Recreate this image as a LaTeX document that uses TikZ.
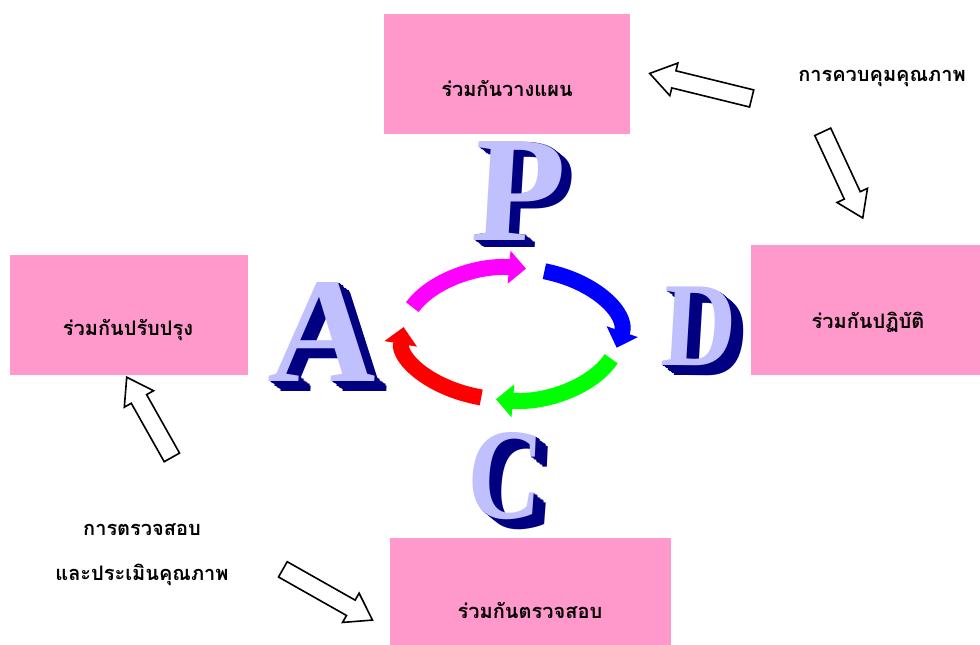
\documentclass[tikz,border=0pt]{standalone}
\usepackage{fontspec}
\setmainfont{Liberation Serif}
\newfontfamily\thaifont[Script=Thai]{Loma}
\usetikzlibrary{arrows.meta,shapes.arrows}
\definecolor{boxpink}{HTML}{FF99CC}
\definecolor{letterface}{HTML}{C0C0FF}
\definecolor{letterside}{HTML}{000080}
\definecolor{cmag}{HTML}{FF00FF}
\definecolor{cblue}{HTML}{0000FF}
\definecolor{cgreen}{HTML}{00FF00}
\definecolor{cred}{HTML}{FF0000}
\newcommand\pdcaletter[7]{% name, x, y, letter, size, dx, dy ; xscale via \lxs
  \foreach \k in {8,7,...,1}{%
    \node[bigletter, text=letterside, xscale=\lxs] (#1-\k) at (#2+\k*#6/8, #3+\k*#7/8) {\fontsize{#5}{#5}\selectfont #4};}
  \node[bigletter, text=letterface, xscale=\lxs] (#1) at (#2,#3) {\fontsize{#5}{#5}\selectfont #4};}
\begin{document}
\begin{tikzpicture}[x=1pt,y=-1pt,
  box/.style={fill=boxpink, draw=none, inner sep=0pt, minimum width=#1},
  thai/.style={font=\thaifont\bfseries\fontsize{20}{24}\selectfont, text=black, inner sep=0pt},
  bigletter/.style={font=\bfseries, anchor=base, inner sep=0pt, xslant=0.06},
  cyc/.style={line width=16pt, -{Triangle[width=32pt,length=17pt]}},
  blockarrow/.style={single arrow, draw=black, fill=white, line width=1.6pt,
    inner sep=0pt, text height=8pt, text depth=8pt, text width=0pt,
    single arrow head extend=8pt, single arrow head indent=0pt,
    single arrow tip angle=68}]
\useasboundingbox (0,0) rectangle (980,645);
\fill[white] (0,0) rectangle (980,645);
% boxes
\node[box=246pt, minimum height=120pt] (plan) at (507,74) {};
\node[box=229pt, minimum height=130pt] (do) at (865.5,310) {};
\node[box=238pt, minimum height=120pt] (act) at (129,315) {};
\node[box=281pt, minimum height=107pt] (check) at (530.5,591.5) {};
\node[thai] (plantxt) at (507,88) {ร่วมกันวางแผน};
\node[thai] (dotxt) at (868,322) {ร่วมกันปฏิบัติ};
\node[thai] (acttxt) at (128,330) {ร่วมกันปรับปรุง};
\node[thai] (checktxt) at (530,610) {ร่วมกันตรวจสอบ};
\node[thai] (qc) at (882,78) {การควบคุมคุณภาพ};
\node[thai] (eval1) at (142,530) {การตรวจสอบ};
\node[thai] (eval2) at (142,575) {และประเมินคุณภาพ};
% block arrows
\node[blockarrow, minimum height=105pt, rotate=166.2] (ba1) at (707,87.5) {};
\node[blockarrow, minimum height=95pt, rotate=-65.1] (ba2) at (840,169) {};
\node[blockarrow, minimum height=92pt, rotate=119.4] (ba3) at (152.5,423) {};
\node[blockarrow, minimum height=103pt, rotate=-29.5] (ba4) at (322,591.5) {};
% letters
\def\lxs{1}
\pdcaletter{P}{516}{240}{P}{150}{10}{7}
\def\lxs{1}
\pdcaletter{A}{322}{381}{A}{150}{12}{10}
\def\lxs{0.85}
\pdcaletter{D}{697}{365}{D}{120}{12}{10}
\def\lxs{0.8}
\pdcaletter{C}{503}{518}{C}{130}{12}{10}
% cycle arrows
\draw[cyc, cmag] (511,334) ++(-156:108 and 66) arc[start angle=-156, end angle=-82, x radius=108, y radius=66];
\draw[cyc, cblue] (511,334) ++(-72:108 and 66) arc[start angle=-72, end angle=12, x radius=108, y radius=66];
\draw[cyc, cgreen] (511,334) ++(22:108 and 66) arc[start angle=22, end angle=98, x radius=108, y radius=66];
\draw[cyc, cred] (511,334) ++(106:108 and 66) arc[start angle=106, end angle=186, x radius=108, y radius=66];
\end{tikzpicture}
\end{document}
